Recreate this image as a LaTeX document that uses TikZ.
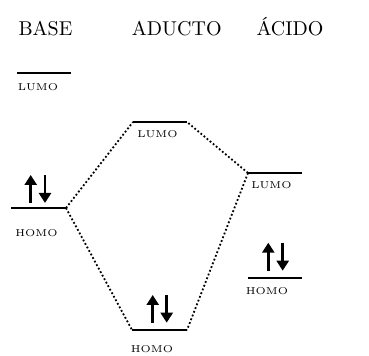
\documentclass[tikz,border=0pt]{standalone}
\usepackage{fontspec}
\usetikzlibrary{positioning,arrows.meta}

\begin{document}
\begin{tikzpicture}[
        x=0.5pt, y=-0.5pt,
        lvl/.style={line width=0.8pt},
        link/.style={dash pattern=on 0.9pt off 1.1pt, line width=0.9pt},
        spin/.style={-{Triangle[width=6pt, length=5pt]}, line width=1.4pt},
        orb/.style={font=\tiny, inner sep=0pt},
        head/.style={font=\normalsize, anchor=base, inner sep=0pt},
    ]
    \useasboundingbox (0,0) rectangle (369,356);

    % ----- Headers -----
    \node[head] (tbase) at (45.5,36) {BASE};
    \node[head] (tadu)  at (176.7,36) {ADUCTO};
    \node[head] (tacid) at (290,36) {ÁCIDO};

    % ----- Base -----
    \coordinate (bl-l) at (17,73);   \coordinate (bl-r) at (71,73);
    \coordinate (bh-l) at (11,208);  \coordinate (bh-r) at (66,208);
    \draw[lvl] (bl-l) -- (bl-r);
    \draw[lvl] (bh-l) -- (bh-r);
    \node[orb] (blumo) at (38,87) {LUMO};
    \node[orb] (bhomo) at (36.5,233) {HOMO};
    \coordinate (bu0) at (30.7,203); \coordinate (bu1) at (30.7,175);
    \coordinate (bd0) at (45,175);   \coordinate (bd1) at (45,203);
    \draw[spin] (bu0) -- (bu1);
    \draw[spin] (bd0) -- (bd1);

    % ----- Aducto -----
    \coordinate (al-l) at (133,122); \coordinate (al-r) at (187,122);
    \coordinate (ah-l) at (132,330); \coordinate (ah-r) at (187,330);
    \draw[lvl] (al-l) -- (al-r);
    \draw[lvl] (ah-l) -- (ah-r);
    \node[orb] (alumo) at (157.5,134.5) {LUMO};
    \node[orb] (ahomo) at (152,349.5) {HOMO};
    \coordinate (au0) at (152.7,322.7); \coordinate (au1) at (152.7,295);
    \coordinate (ad0) at (166.7,295);   \coordinate (ad1) at (166.7,322.7);
    \draw[spin] (au0) -- (au1);
    \draw[spin] (ad0) -- (ad1);

    % ----- Acido -----
    \coordinate (cl-l) at (248,173); \coordinate (cl-r) at (302,173);
    \coordinate (ch-l) at (248,278); \coordinate (ch-r) at (302,278);
    \draw[lvl] (cl-l) -- (cl-r);
    \draw[lvl] (ch-l) -- (ch-r);
    \node[orb] (clumo) at (271.5,185.5) {LUMO};
    \node[orb] (chomo) at (267,291.5) {HOMO};
    \coordinate (cu0) at (268.3,270.7); \coordinate (cu1) at (268.3,242.7);
    \coordinate (cd0) at (282.7,242.7); \coordinate (cd1) at (282.7,270.7);
    \draw[spin] (cu0) -- (cu1);
    \draw[spin] (cd0) -- (cd1);

    % ----- Correlation lines -----
    \draw[link] (bh-r) -- (al-l);
    \draw[link] (bh-r) -- (ah-l);
    \draw[link] (cl-l) -- (al-r);
    \draw[link] (cl-l) -- (ah-r);

\end{tikzpicture}
\end{document}
